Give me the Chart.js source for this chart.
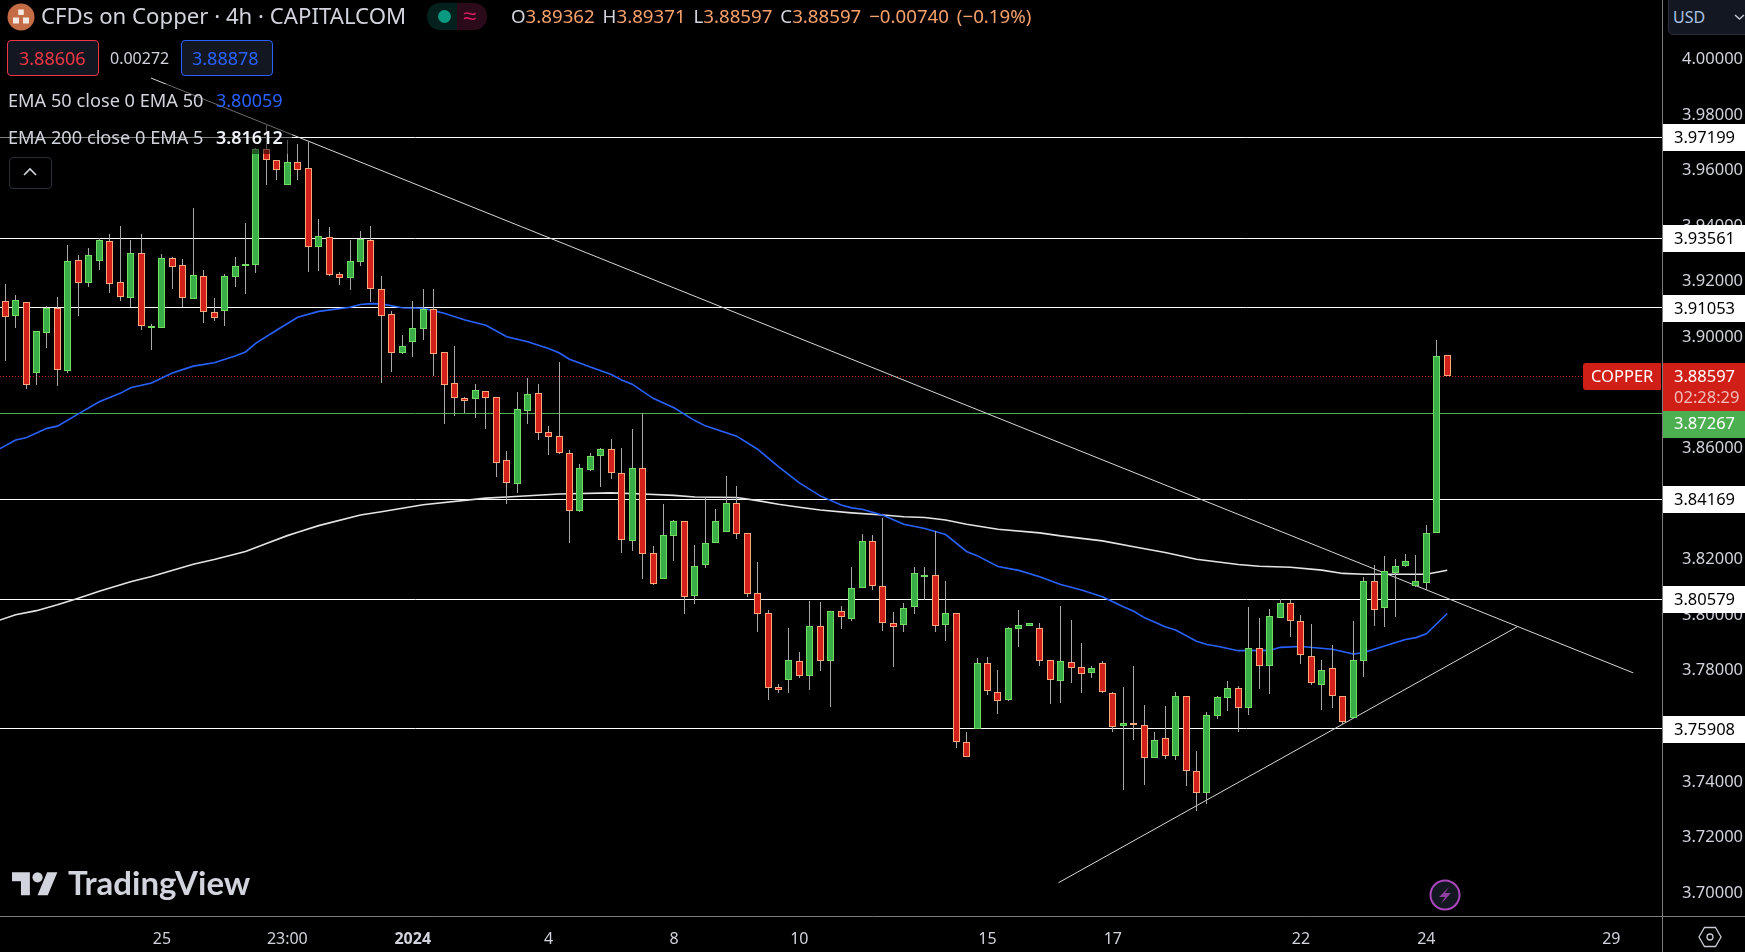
<!DOCTYPE html>
<html>
<head>
<meta charset="utf-8">
<title>CFDs on Copper</title>
<script src="https://cdn.jsdelivr.net/npm/chart.js@4"></script>
<style>
  html, body { margin: 0; padding: 0; background: #000; overflow: hidden; }
  #wrap { position: relative; width: 1745px; height: 952px; font-family: 'Noto Sans', sans-serif; }
  #myChart { position: absolute; left: 0; top: 0; }
  .txt { position: absolute; white-space: nowrap; line-height: 1; }
</style>
</head>
<body>
<div id="wrap">
  <canvas id="myChart" width="1745" height="952"></canvas>

  <!-- legend backdrop, lines show dimmer behind it -->
  <div style="position:absolute;left:0;top:84px;width:292px;height:70px;background:rgba(0,0,0,.5)"></div>

  <!-- header -->
  <svg style="position:absolute;left:7px;top:3px" width="28" height="28" viewBox="0 0 28 28">
    <circle cx="14" cy="14" r="13.5" fill="#c46c45"/>
    <rect x="11.2" y="6.5" width="5.6" height="5.4" fill="#f4e9e2"/>
    <rect x="6" y="14.5" width="6" height="6" fill="#f4e9e2"/>
    <rect x="16" y="14.5" width="6" height="6" fill="#f4e9e2"/>
  </svg>
  <span class="txt" style="left:41px;top:5px;font-size:22.2px;color:#d1d4dc">CFDs on Copper · 4h · CAPITALCOM</span>
  <div style="position:absolute;left:427px;top:3px;width:30px;height:27px;background:#04211d;border-radius:13px 0 0 13px"></div>
  <div style="position:absolute;left:457px;top:3px;width:30px;height:27px;background:#2b0a1a;border-radius:0 13px 13px 0"></div>
  <div style="position:absolute;left:438px;top:10px;width:13px;height:13px;background:#089981;border-radius:50%"></div>
  <span class="txt" style="left:463px;top:3px;font-size:24px;color:#d81b60">≈</span>
  <span class="txt" style="left:511px;top:7px;font-size:18.7px;color:#d1d4dc;word-spacing:3px">O<span style="color:#f7a26b">3.89362</span> H<span style="color:#f7a26b">3.89371</span> L<span style="color:#f7a26b">3.88597</span> C<span style="color:#f7a26b">3.88597</span> <span style="color:#f7a26b">−0.00740 (−0.19%)</span></span>

  <!-- sell / buy boxes -->
  <div style="position:absolute;left:7px;top:40px;width:90px;height:34px;border:1px solid #f23645;border-radius:4px;background:#131722"></div>
  <span class="txt" style="left:19px;top:49px;font-size:18px;color:#f23645">3.88606</span>
  <span class="txt" style="left:110px;top:50px;font-size:16px;color:#d1d4dc">0.00272</span>
  <div style="position:absolute;left:181px;top:40px;width:90px;height:34px;border:1px solid #2962ff;border-radius:4px;background:#131722"></div>
  <span class="txt" style="left:192px;top:49px;font-size:18px;color:#2962ff">3.88878</span>

  <!-- indicator rows -->
  <span class="txt" style="left:8px;top:91px;font-size:18.2px;color:#d1d4dc">EMA 50 close 0 EMA 50</span>
  <span class="txt" style="left:216px;top:91px;font-size:18px;color:#2962ff">3.80059</span>
  <span class="txt" style="left:8px;top:128px;font-size:18.2px;color:#d1d4dc">EMA 200 close 0 EMA 5</span>
  <span class="txt" style="left:216px;top:128px;font-size:18px;color:#f0f3fa;font-weight:600">3.81612</span>
  <div style="position:absolute;left:9px;top:157px;width:41px;height:30px;border:1px solid #2a2e39;border-radius:4px;background:#000"></div>
  <svg style="position:absolute;left:22px;top:165px" width="16" height="14" viewBox="0 0 16 14">
    <path d="M2 10 L8 4 L14 10" fill="none" stroke="#d1d4dc" stroke-width="1.6"/>
  </svg>

  <!-- TradingView mark -->
  <svg style="position:absolute;left:12px;top:867px" width="46" height="36" viewBox="0 0 36 28">
    <path d="M14 22H7V11H0V4h14v18zM28 22h-8l7.5-18h8L28 22z" fill="#d1d4dc"/>
    <circle cx="20" cy="8" r="4" fill="#d1d4dc"/>
  </svg>
  <span class="txt" style="left:68px;top:866px;font-family:Lato,sans-serif;font-size:33px;font-weight:700;color:#d1d4dc">TradingView</span>

  <!-- lightning badge -->
  <svg style="position:absolute;left:1429px;top:879px" width="32" height="32" viewBox="0 0 32 32">
    <circle cx="16" cy="16" r="14.5" fill="#131722" stroke="#ab47bc" stroke-width="2"/>
    <path d="M20 8 L10 18 L16 18 L12 25 L22 14 L16 14 Z" fill="#8e3fa0"/>
  </svg>

  <!-- currency box, settings -->
  <div style="position:absolute;left:1668px;top:-4px;width:90px;height:39px;background:#131722;border:1px solid #2a2e39;border-radius:5px;box-sizing:border-box"></div>
  <span class="txt" style="left:1673px;top:9px;font-size:16px;color:#a9c4e4">USD</span>
  <svg style="position:absolute;left:1734px;top:12px" width="11" height="10" viewBox="0 0 11 10">
    <path d="M1 3 L5.5 7 L10 3" fill="none" stroke="#c8cbd3" stroke-width="1.4"/>
  </svg>
  <svg style="position:absolute;left:1698px;top:926px" width="24" height="22" viewBox="0 0 24 22">
    <path d="M6.5 1.5 H17.5 L23 11 L17.5 20.5 H6.5 L1 11 Z" fill="none" stroke="#c8cbd3" stroke-width="1.3"/>
    <circle cx="12" cy="11" r="3" fill="none" stroke="#c8cbd3" stroke-width="1.3"/>
  </svg>
</div>

<script>
// candles, values, oldest first
const opens = [
  3.9129,3.9078,3.9126,3.8872,3.9016,3.9104,3.8880,3.9277,3.9196,3.9276,
  3.9345,3.9198,3.9142,3.9302,3.9038,3.9034,3.9284,3.9259,3.9139,3.9219,
  3.9090,3.9096,3.9218,3.9259,3.9261,3.9676,3.9637,3.9546,3.9630,3.9608,
  3.9326,3.9360,3.9226,3.9214,3.9272,3.9349,3.9172,3.9082,3.8944,3.8984,
  3.9031,3.9100,3.8946,3.8834,3.8780,3.8779,3.8805,3.8784,3.8557,3.8473,
  3.8736,3.8798,3.8658,3.8643,3.8585,3.8375,3.8523,3.8573,3.8596,3.8513,
  3.8267,3.8531,3.8222,3.8130,3.8285,3.8337,3.8069,3.8181,3.8260,3.8300,
  3.8405,3.8294,3.8081,3.8009,3.7743,3.7767,3.7836,3.7781,3.7959,3.7835,
  3.8013,3.7986,3.8098,3.8265,3.8106,3.7970,3.7965,3.8030,3.8145,3.8146,
  3.7965,3.8006,3.7545,3.7590,3.7829,3.7725,3.7695,3.7950,3.7961,3.7955,
  3.7840,3.7763,3.7833,3.7815,3.7792,3.7826,3.7721,3.7601,3.7610,3.7606,
  3.7486,3.7559,3.7493,3.7710,3.7440,3.7360,3.7637,3.7702,3.7739,3.7664,
  3.7880,3.7818,3.7991,3.8042,3.7977,3.7854,3.7750,3.7808,3.7710,3.7631,
  3.7836,3.8124,3.8024,3.8152,3.8177,3.8105,3.8117,3.8297,3.89362
];
const highs = [
  3.9192,3.9152,3.9126,3.9022,3.9112,3.9144,3.9332,3.9295,3.9321,3.9356,
  3.9372,3.9400,3.9350,3.9372,3.9048,3.9300,3.9289,3.9280,3.9464,3.9241,
  3.9141,3.9226,3.9289,3.9410,3.9682,3.9768,3.9637,3.9710,3.9696,3.9704,
  3.9426,3.9396,3.9234,3.9350,3.9382,3.9400,3.9220,3.9094,3.9007,3.9130,
  3.9172,3.9172,3.8946,3.8968,3.8785,3.8832,3.8805,3.8784,3.8589,3.8802,
  3.8852,3.8832,3.8680,3.8910,3.8594,3.8543,3.8582,3.8603,3.8632,3.8603,
  3.8668,3.8729,3.8250,3.8399,3.8342,3.8337,3.8254,3.8426,3.8381,3.8502,
  3.8466,3.8294,3.8190,3.8018,3.7751,3.7953,3.7866,3.8050,3.8046,3.8013,
  3.8032,3.8172,3.8291,3.8288,3.8349,3.8010,3.8043,3.8172,3.8172,3.8302,
  3.8122,3.8006,3.7578,3.7845,3.7848,3.7802,3.7956,3.8018,3.7970,3.7970,
  3.7840,3.8032,3.7982,3.7899,3.7816,3.7834,3.7724,3.7740,3.7816,3.7676,
  3.7578,3.7672,3.7722,3.7710,3.7510,3.7653,3.7710,3.7762,3.7744,3.8028,
  3.7989,3.8021,3.8057,3.8054,3.7999,3.7967,3.7840,3.7892,3.7710,3.7978,
  3.8136,3.8180,3.8212,3.8201,3.8219,3.8216,3.8324,3.8990,3.89371
];
const lows = [
  3.8916,3.9034,3.8815,3.8829,3.8961,3.8826,3.8872,3.9076,3.9181,3.9242,
  3.9159,3.9130,3.9109,3.9026,3.8954,3.9034,3.9174,3.9109,3.9139,3.9051,
  3.9058,3.9040,3.9181,3.9156,3.9232,3.9548,3.9566,3.9546,3.9566,3.9236,
  3.9240,3.9222,3.9189,3.9171,3.9256,3.9128,3.8836,3.8876,3.8941,3.8930,
  3.8990,3.8860,3.8689,3.8718,3.8726,3.8709,3.8670,3.8498,3.8401,3.8439,
  3.8688,3.8630,3.8576,3.8580,3.8260,3.8371,3.8519,3.8462,3.8489,3.8223,
  3.8231,3.8130,3.8107,3.8130,3.8195,3.8003,3.8039,3.8169,3.8258,3.8298,
  3.8274,3.8066,3.7938,3.7694,3.7719,3.7719,3.7773,3.7730,3.7798,3.7668,
  3.7949,3.7978,3.8098,3.8090,3.7942,3.7812,3.7938,3.8003,3.8054,3.7938,
  3.7906,3.7521,3.7490,3.7590,3.7712,3.7643,3.7691,3.7884,3.7961,3.7816,
  3.7679,3.7683,3.7755,3.7719,3.7773,3.7719,3.7580,3.7370,3.7550,3.7388,
  3.7484,3.7481,3.7478,3.7384,3.7294,3.7322,3.7625,3.7654,3.7580,3.7640,
  3.7734,3.7715,3.7991,3.7920,3.7823,3.7748,3.7658,3.7665,3.7604,3.7629,
  3.7776,3.7960,3.7956,3.7992,3.8172,3.8100,3.8092,3.8297,3.88597
];
const closes = [
  3.9074,3.9133,3.8829,3.9021,3.9104,3.8883,3.9273,3.9196,3.9295,3.9349,
  3.9193,3.9146,3.9302,3.9042,3.9039,3.9284,3.9254,3.9142,3.9223,3.9092,
  3.9070,3.9219,3.9255,3.9262,3.9676,3.9638,3.9600,3.9630,3.9603,3.9324,
  3.9363,3.9225,3.9214,3.9273,3.9352,3.9175,3.9078,3.8944,3.8967,3.9032,
  3.9102,3.8941,3.8829,3.8782,3.8772,3.8809,3.8782,3.8548,3.8476,3.8740,
  3.8794,3.8656,3.8642,3.8584,3.8375,3.8528,3.8574,3.8596,3.8512,3.8272,
  3.8531,3.8220,3.8112,3.8290,3.8337,3.8066,3.8178,3.8258,3.8337,3.8405,
  3.8292,3.8076,3.8004,3.7738,3.7731,3.7840,3.7781,3.7959,3.7835,3.8013,
  3.7994,3.8096,3.8268,3.8105,3.7972,3.7958,3.8027,3.8150,3.8146,3.7961,
  3.8006,3.7544,3.7490,3.7829,3.7727,3.7691,3.7952,3.7966,3.7970,3.7835,
  3.7767,3.7836,3.7810,3.7788,3.7811,3.7724,3.7598,3.7610,3.7608,3.7486,
  3.7552,3.7493,3.7710,3.7439,3.7360,3.7642,3.7707,3.7739,3.7666,3.7880,
  3.7818,3.7995,3.8045,3.7977,3.7858,3.7754,3.7804,3.7710,3.7617,3.7840,
  3.8124,3.8020,3.8157,3.8178,3.8196,3.8121,3.8294,3.8934,3.88597
];

// EMA lines, sampled at these candle numbers
const ema50Idx = [-0.5,1,2,4,5,7,9,11,12,14,16,18,20,22,23,24,26,28,30,33,34,35,36,38,40,42,44,46,48,50,52,53,54,56,58,59,60,62,64,66,67,70,72,74,76,78,80,81,82,84,86,88,90,92,93,95,97,99,101,103,105,107,108,109,111,112,114,115,116,118,121,122,124,127,129,130,131,134,135,136,138];
const ema50 = [3.8599,3.8630,3.8638,3.8672,3.8680,3.8724,3.8768,3.8798,3.8818,3.8835,3.8871,3.8896,3.8908,3.8932,3.8947,3.8979,3.9026,3.9072,3.9093,3.9108,3.9118,3.9121,3.9120,3.9106,3.9104,3.9086,3.9062,3.9043,3.9002,3.8984,3.8959,3.8944,3.8921,3.8893,3.8866,3.8846,3.8831,3.8780,3.8746,3.8700,3.8681,3.8644,3.8597,3.8534,3.8476,3.8429,3.8396,3.8386,3.8381,3.8359,3.8327,3.8312,3.8290,3.8229,3.8214,3.8175,3.8161,3.8138,3.8110,3.8090,3.8066,3.8030,3.8014,3.7991,3.7958,3.7946,3.7906,3.7894,3.7888,3.7872,3.7873,3.7884,3.7887,3.7877,3.7860,3.7865,3.7877,3.7912,3.7919,3.7933,3.80059];
const ema200Idx = [-0.5,1,3,5,7,9,12,14,18,20,23,25,27,28,30,34,36,40,46,48,53,58,61,64,66,70,72,74,76,78,81,84,86,88,90,92,95,99,101,105,108,111,114,118,120,123,126,128,130,136,138];
const ema200 = [3.7982,3.8001,3.8016,3.8037,3.8061,3.8086,3.8120,3.8139,3.8183,3.8200,3.8229,3.8258,3.8286,3.8298,3.8322,3.8360,3.8372,3.8397,3.8421,3.8425,3.8436,3.8440,3.8436,3.8431,3.8425,3.8423,3.8412,3.8399,3.8388,3.8378,3.8368,3.8360,3.8354,3.8351,3.8342,3.8327,3.8309,3.8296,3.8285,3.8267,3.8246,3.8225,3.8201,3.8182,3.8176,3.8172,3.8162,3.8150,3.8147,3.8147,3.81612];

// drawn levels and trend lines
const whiteLevels = [3.97199,3.93561,3.91053,3.84169,3.80579,3.75908];
const greenLevel = 3.87267;
const lastPrice = 3.88597;
const fallLineIdx = [13.95,155.8];
const fallLine = [3.99327,3.7792];
const riseLineIdx = [100.8,144.7];
const riseLine = [3.7037,3.7958];

// axes
const yTicks = [4.0,3.98,3.96,3.94,3.92,3.90,3.88,3.86,3.84,3.82,3.80,3.78,3.76,3.74,3.72,3.70];
const xTickIdx = [15,27,39,52,64,76,94,106,124,136,153.7];
const xTickLabels = ['25','23:00','2024','4','8','10','15','17','22','24','29'];

const idx = opens.map((_, i) => i);
const xMin = -0.4957, xMax = 158.55;
const yMin = 3.69172, yMax = 4.02135;
const axisFont = "'Noto Sans', sans-serif";
const isUp = idx.map((i) => closes[i] >= opens[i]);

// horizontal line helper, same shape for every level
function levelSet(v, color, extra) {
  return Object.assign({
    type: 'line', data: [{ x: xMin, y: v }, { x: xMax, y: v }],
    borderColor: color, borderWidth: 1, pointRadius: 0, tension: 0, order: 5, snap: true,
  }, extra);
}
function pairs(xs, ys) {
  return xs.map((x, i) => ({ x: x, y: ys[i] }));
}

// no extra room around the plot, the frame is fixed
function noPadding(s) {
  s.paddingTop = 0; s.paddingBottom = 0; s.paddingLeft = 0; s.paddingRight = 0;
}

// bars sit on whole pixels like in the reference
const snapPlugin = {
  id: 'snapPlugin',
  afterDatasetsUpdate(chart) {
    chart.data.datasets.forEach((ds, n) => {
      const els = chart.getDatasetMeta(n).data;
      if (ds.type === 'bar') {
        els.forEach((el) => {
          el.x = Math.floor(el.x) + 0.5;
          el.y = Math.round(el.y);
          el.base = Math.round(el.base);
          if (Math.abs(el.base - el.y) < 2) el.base = el.y + 2;
          el.height = el.base - el.y;
        });
      } else if (ds.snap) {
        els.forEach((el) => { el.y = Math.floor(el.y) + 0.5; });
      }
    });
  },
};

// axis frame and the price tags on top of the scale
const tagPlugin = {
  id: 'tagPlugin',
  afterDraw(chart) {
    const c = chart.ctx;
    const yS = chart.scales.y;
    const right = chart.chartArea.right;
    const bottom = chart.chartArea.bottom;
    c.save();
    c.strokeStyle = '#7b7b7b';
    c.lineWidth = 1;
    c.beginPath();
    c.moveTo(right + 0.5, 0); c.lineTo(right + 0.5, 952);
    c.moveTo(0, bottom + 0.5); c.lineTo(1745, bottom + 0.5);
    c.stroke();

    c.textBaseline = 'middle';
    c.font = '16.5px ' + axisFont;
    whiteLevels.forEach((v) => {
      const y = Math.round(yS.getPixelForValue(v));
      c.fillStyle = '#fff';
      c.fillRect(right + 1, y - 13, 1745 - right, 27);
      c.fillStyle = '#000';
      c.fillText(v.toFixed(5), right + 12, y + 1);
    });

    const py = Math.round(yS.getPixelForValue(lastPrice));
    c.fillStyle = '#d01f17';
    c.fillRect(right + 1, py - 13, 1745 - right, 48);
    c.fillStyle = '#fff';
    c.fillText(lastPrice.toFixed(5), right + 12, py + 1);
    c.fillStyle = '#f2bdb9';
    c.fillText('02:28:29', right + 12, py + 22);

    const gy = Math.round(yS.getPixelForValue(greenLevel));
    c.fillStyle = '#4caf50';
    c.fillRect(right + 1, gy - 2, 1745 - right, 27);
    c.fillStyle = '#fff';
    c.fillText(greenLevel.toFixed(5), right + 12, gy + 11);

    c.fillStyle = '#d01f17';
    c.beginPath();
    c.roundRect(right - 79, py - 13, 78, 27, [3, 0, 0, 3]);
    c.fill();
    c.fillStyle = '#fff';
    c.fillText('COPPER', right - 71, py + 1);
    c.restore();
  },
};

new Chart(document.getElementById('myChart').getContext('2d'), {
  type: 'bar',
  data: {
    datasets: [
      {
        type: 'bar', label: 'wicks', grouped: false, order: 2,
        data: idx.map((i) => ({ x: i, y: [lows[i], highs[i]] })),
        backgroundColor: '#a8a8a8', borderWidth: 0, barThickness: 1, inflateAmount: 0,
      },
      {
        type: 'bar', label: 'bodies', grouped: false, order: 1,
        data: idx.map((i) => ({ x: i, y: [opens[i], closes[i]] })),
        backgroundColor: idx.map((i) => (isUp[i] ? '#39ad48' : '#d2201a')),
        borderColor: idx.map((i) => (isUp[i] ? '#72dd62' : '#f9a97c')),
        borderWidth: 1, borderSkipped: false, barThickness: 7, inflateAmount: 0,
      },
      {
        type: 'line', label: 'EMA 50', order: 3, data: pairs(ema50Idx, ema50),
        borderColor: '#2962ff', borderWidth: 1.6, pointRadius: 0, tension: 0,
      },
      {
        type: 'line', label: 'EMA 200', order: 4, data: pairs(ema200Idx, ema200),
        borderColor: '#e4e4e4', borderWidth: 1.6, pointRadius: 0, tension: 0,
      },
      {
        type: 'line', label: 'fall', order: 4, data: pairs(fallLineIdx, fallLine),
        borderColor: '#d8d8d8', borderWidth: 1, pointRadius: 0, tension: 0,
      },
      {
        type: 'line', label: 'rise', order: 4, data: pairs(riseLineIdx, riseLine),
        borderColor: '#d8d8d8', borderWidth: 1, pointRadius: 0, tension: 0,
      },
      ...whiteLevels.map((v) => levelSet(v, '#ffffff')),
      levelSet(greenLevel, '#4caf50'),
      levelSet(lastPrice, '#d01f17', { borderDash: [1, 2] }),
    ],
  },
  options: {
    responsive: false,
    animation: false,
    events: [],
    layout: { padding: 0 },
    plugins: { legend: { display: false }, title: { display: false }, tooltip: { enabled: false } },
    scales: {
      x: {
        type: 'linear', min: xMin, max: xMax, offset: false,
        grid: { display: false }, border: { display: false },
        afterBuildTicks: (s) => { s.ticks = xTickIdx.map((v) => ({ value: v })); },
        afterFit: (s) => { s.height = 36; noPadding(s); },
        ticks: {
          autoSkip: false, maxRotation: 0, color: '#d1d4dc', padding: 6,
          font: (ctx) => ({
            family: axisFont, size: 16,
            weight: ctx.tick && ctx.tick.value === 39 ? 'bold' : 'normal',
          }),
          callback: (v) => xTickLabels[xTickIdx.indexOf(v)],
        },
      },
      y: {
        type: 'linear', position: 'right', min: yMin, max: yMax,
        grid: { display: false }, border: { display: false },
        afterBuildTicks: (s) => { s.ticks = yTicks.map((v) => ({ value: v })); },
        afterFit: (s) => { s.width = 83; noPadding(s); },
        ticks: {
          autoSkip: false, color: '#d1d4dc', padding: 12, align: 'center', crossAlign: 'near',
          font: { family: axisFont, size: 16.5 },
          callback: (v) => v.toFixed(5),
        },
      },
    },
  },
  plugins: [snapPlugin, tagPlugin],
});
</script>
</body>
</html>
